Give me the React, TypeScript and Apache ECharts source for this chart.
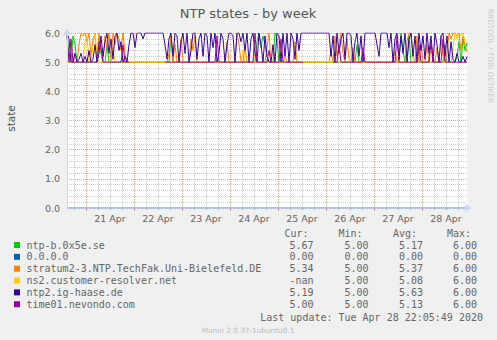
import React, { useEffect, useRef } from 'react';
import * as echarts from 'echarts';

// Time axis: 401 half-hour slots; first day boundary (21 Apr 00:00) at slot 19
const dayLabels = ['21 Apr', '22 Apr', '23 Apr', '24 Apr', '25 Apr', '26 Apr', '27 Apr', '28 Apr'];
const slotCount = 401;
const firstMidnight = 19;
const slotsPerDay = 48;
const slotsPer6h = 12;

const seriesNames = [
  'ntp-b.0x5e.se',
  '0.0.0.0',
  'stratum2-3.NTP.TechFak.Uni-Bielefeld.DE',
  'ns2.customer-resolver.net',
  'ntp2.ig-haase.de',
  'time01.nevondo.com',
];
const seriesColors = ['#00CC00', '#0066B3', '#FF8000', '#FFCC00', '#330099', '#990099'];
const curValues = ['5.67', '0.00', '5.34', '-nan', '5.19', '5.00'];
const minValues = ['5.00', '0.00', '5.00', '5.00', '5.00', '5.00'];
const avgValues = ['5.17', '0.00', '5.37', '5.08', '5.63', '5.13'];
const maxValues = ['6.00', '0.00', '6.00', '6.00', '6.00', '6.00'];

// samples every hour (201 points) except the 0.0.0.0 host (every 2 hours)
const ntpB = [
  6.0, 5.2, 5.0, 5.9, 5.6, 5.0, 5.0, 5.0, 5.0, 5.0,
  5.0, 5.0, 5.0, 5.0, 5.0, 5.0, 5.8, 5.3, 5.0, 5.0,
  5.6, 5.0, 5.0, 5.0, 5.0, 5.0, 5.0, 5.0, 5.0, 5.0,
  5.0, 5.0, 5.0, 5.0, 5.0, 5.0, 5.0, 5.0, 5.0, 5.0,
  5.0, 5.0, 5.0, 5.0, 5.0, 5.0, 5.0, 5.0, 5.0, 5.0,
  5.0, 5.0, 5.9, 5.0, 5.0, 5.0, 5.0, 5.0, 5.0, 5.0,
  5.0, 5.0, 5.0, 5.0, 5.0, 5.0, 5.0, 5.0, 5.0, 5.0,
  5.0, 5.0, 5.0, 5.0, 5.0, 5.0, 5.0, 5.0, 5.0, 5.0,
  5.0, 5.0, 5.0, 5.0, 5.0, 5.0, 5.0, 5.0, 5.0, 5.0,
  5.0, 5.0, 5.0, 5.0, 5.0, 5.7, 6.0, 5.5, 5.9, 5.6,
  5.2, 5.0, 5.0, 5.0, 6.0, 5.8, 5.0, 5.0, 5.0, 5.0,
  5.0, 5.0, 5.0, 5.0, 5.0, 5.0, 5.0, 5.0, 5.0, 5.0,
  5.0, 5.0, 5.0, 5.0, 5.0, 5.0, 5.0, 5.0, 5.0, 5.0,
  5.0, 5.0, 5.0, 5.0, 5.0, 5.0, 5.0, 5.0, 5.0, 5.0,
  5.0, 5.0, 5.0, 5.0, 5.0, 5.6, 5.0, 5.0, 5.0, 5.0,
  5.0, 5.0, 5.0, 5.0, 5.0, 5.0, 5.0, 5.0, 5.0, 5.0,
  5.0, 5.0, 5.0, 5.0, 5.0, 5.0, 5.0, 6.0, 5.4, 5.0,
  5.0, 5.9, 5.0, 5.0, 5.0, 5.0, 5.0, 5.0, 5.0, 5.0,
  5.0, 5.0, 5.0, 5.0, 5.0, 5.0, 5.0, 5.0, 5.0, 5.6,
  5.0, 5.0, 5.0, 5.0, 5.0, 5.2, 5.7, 5.0, 5.8, 5.4,
  5.67,
];
const zeroHost = [
  0, 0, 0, 0, 0, 0, 0, 0, 0, 0,
  0, 0, 0, 0, 0, 0, 0, 0, 0, 0,
  0, 0, 0, 0, 0, 0, 0, 0, 0, 0,
  0, 0, 0, 0, 0, 0, 0, 0, 0, 0,
  0, 0, 0, 0, 0, 0, 0, 0, 0, 0,
  0, 0, 0, 0, 0, 0, 0, 0, 0, 0,
  0, 0, 0, 0, 0, 0, 0, 0, 0, 0,
  0, 0, 0, 0, 0, 0, 0, 0, 0, 0,
  0, 0, 0, 0, 0, 0, 0, 0, 0, 0,
  0, 0, 0, 0, 0, 0, 0, 0, 0, 0,
  0,
];
const stratum2 = [
  5.0, 5.0, 5.0, 5.0, 5.3, 5.0, 5.6, 6.0, 5.9, 6.0,
  5.7, 6.0, 5.2, 5.8, 6.0, 5.1, 6.0, 5.4, 5.0, 5.9,
  5.5, 6.0, 5.0, 6.0, 5.6, 6.0, 5.8, 5.4, 6.0, 5.3,
  5.0, 5.0, 5.0, 5.0, 5.0, 5.0, 5.0, 5.0, 5.0, 5.0,
  5.0, 5.0, 5.0, 5.0, 5.0, 5.0, 5.0, 5.0, 5.0, 5.0,
  5.0, 5.3, 5.9, 5.0, 5.6, 5.0, 5.0, 5.8, 5.0, 5.0,
  5.0, 5.0, 5.8, 5.4, 5.9, 5.0, 5.0, 5.0, 5.0, 5.0,
  5.0, 5.0, 5.0, 5.0, 5.0, 5.0, 5.0, 5.0, 5.0, 5.0,
  5.7, 5.0, 5.0, 5.0, 5.0, 6.0, 5.6, 5.0, 5.0, 5.5,
  5.0, 5.0, 5.0, 5.0, 5.0, 5.0, 5.0, 5.0, 5.0, 5.0,
  5.5, 6.0, 5.0, 5.0, 5.0, 5.0, 5.0, 5.0, 5.0, 5.2,
  5.0, 5.0, 5.0, 5.0, 5.7, 5.0, 5.0, 5.0, 5.0, 5.0,
  5.0, 5.0, 5.0, 5.0, 5.0, 5.0, 5.0, 5.0, 5.0, 5.0,
  5.0, 5.0, 5.4, 5.0, 5.9, 5.2, 5.6, 6.0, 5.3, 5.0,
  5.8, 5.1, 5.0, 5.5, 5.0, 5.0, 5.0, 5.0, 5.0, 5.0,
  5.0, 5.0, 5.0, 5.0, 5.0, 5.0, 5.0, 5.0, 5.0, 5.0,
  5.0, 5.0, 5.0, 5.0, 5.4, 5.0, 5.0, 5.0, 5.0, 5.0,
  5.7, 6.0, 6.0, 5.2, 5.0, 5.9, 5.0, 5.6, 5.0, 5.0,
  5.6, 5.0, 5.8, 5.1, 5.0, 5.5, 5.0, 5.9, 5.2, 5.0,
  5.3, 6.0, 5.8, 6.0, 6.0, 5.9, 6.0, 5.4, 5.9, 5.6,
  5.34,
];
const ns2 = [
  5.0, 5.0, 5.0, 5.0, 5.0, 5.0, 5.0, 5.0, 5.0, 5.7,
  5.9, 5.0, 5.0, 5.6, 6.0, 5.2, 5.0, 5.0, 5.0, 5.0,
  5.0, 5.0, 5.0, 5.5, 5.0, 5.0, 5.0, 5.0, 5.0, 5.0,
  5.0, 5.0, 5.0, 5.0, 5.0, 5.0, 5.0, 5.0, 5.0, 5.0,
  5.0, 5.0, 5.0, 5.0, 5.0, 5.0, 5.0, 5.0, 5.0, 5.0,
  5.0, 5.0, 5.0, 5.0, 5.0, 5.0, 5.0, 5.0, 5.0, 5.0,
  5.0, 5.0, 5.0, 5.0, 5.0, 5.0, 5.0, 5.0, 5.0, 5.0,
  5.0, 5.0, 5.0, 5.0, 5.0, 5.0, 5.0, 5.0, 5.0, 5.0,
  5.0, 5.0, 5.0, 5.0, 5.0, 5.0, 5.0, 5.0, 5.4, 5.0,
  5.0, 5.0, 5.0, 5.0, 5.3, 5.0, 5.0, 5.0, 5.0, 5.0,
  5.0, 5.0, 5.0, 5.0, 5.0, 5.0, 5.0, 5.0, 5.0, 5.0,
  5.0, 5.0, 5.0, 5.0, 5.0, 5.0, 5.0, 5.0, 5.0, 5.0,
  5.0, 5.0, 5.0, 5.0, 5.0, 5.0, 5.0, 5.0, 5.0, 5.0,
  5.0, 5.0, 5.0, 5.0, 5.0, 5.0, 5.0, 5.0, 5.0, 5.0,
  5.0, 5.0, 5.0, 5.0, 5.0, 5.0, 5.0, 5.0, 5.0, 5.0,
  5.0, 5.0, 5.0, 5.0, 5.0, 5.0, 5.0, 5.0, 5.0, 5.0,
  5.0, 5.0, 5.0, 5.0, 5.0, 5.0, 5.0, 5.0, 5.0, 5.0,
  5.0, 5.0, 5.0, 5.0, 5.0, 5.0, 5.0, 5.0, 5.0, 5.0,
  5.0, 5.0, 5.0, 5.0, 5.0, 5.0, 5.0, 5.0, 5.0, 5.0,
  5.0, 5.0, 5.0, 5.5, 6.0, 5.8, 6.0, 5.9, 6.0, 5.7,
  null,
];
const ntp2 = [
  6.0, 5.8, 5.0, 5.0, 5.3, 5.0, 5.1, 5.3, 5.0, 5.2,
  5.0, 5.4, 5.0, 5.1, 5.6, 5.0, 5.3, 5.9, 5.2, 5.7,
  6.0, 5.3, 5.8, 5.1, 5.9, 6.0, 5.4, 5.7, 5.0, 5.2,
  5.0, 5.6, 6.0, 6.0, 5.5, 6.0, 6.0, 6.0, 5.8, 6.0,
  6.0, 6.0, 6.0, 6.0, 6.0, 6.0, 6.0, 6.0, 6.0, 5.6,
  5.1, 5.8, 6.0, 5.2, 6.0, 5.9, 5.0, 5.7, 6.0, 5.3,
  6.0, 5.0, 5.4, 6.0, 6.0, 5.1, 5.8, 6.0, 5.2, 6.0,
  5.9, 5.0, 6.0, 5.5, 6.0, 5.0, 5.3, 6.0, 5.8, 5.0,
  5.6, 6.0, 6.0, 5.9, 5.0, 6.0, 6.0, 5.7, 6.0, 5.4,
  6.0, 5.0, 5.8, 6.0, 5.3, 5.0, 6.0, 5.6, 5.0, 5.9,
  5.2, 5.0, 5.0, 5.6, 5.0, 6.0, 5.9, 5.0, 6.0, 5.2,
  6.0, 5.0, 6.0, 5.8, 5.1, 6.0, 5.4, 6.0, 6.0, 6.0,
  6.0, 6.0, 6.0, 6.0, 6.0, 6.0, 6.0, 6.0, 6.0, 6.0,
  6.0, 6.0, 5.2, 5.9, 5.0, 6.0, 5.3, 5.8, 6.0, 5.1,
  6.0, 6.0, 5.9, 5.0, 5.7, 6.0, 5.2, 5.9, 5.0, 6.0,
  6.0, 6.0, 6.0, 6.0, 6.0, 5.6, 5.2, 6.0, 6.0, 6.0,
  6.0, 5.5, 6.0, 5.0, 5.8, 6.0, 5.1, 5.9, 5.3, 6.0,
  5.0, 5.8, 6.0, 5.2, 5.9, 5.0, 6.0, 5.4, 5.9, 5.1,
  6.0, 5.3, 5.9, 5.0, 6.0, 5.6, 5.0, 5.9, 6.0, 5.2,
  5.9, 5.0, 5.7, 5.1, 5.0, 5.3, 5.0, 5.0, 5.2, 5.0,
  5.19,
];
const time01 = [
  5.9, 5.0, 5.8, 5.0, 5.0, 5.0, 5.0, 5.0, 5.0, 5.0,
  5.0, 5.0, 5.0, 5.0, 5.0, 5.0, 5.7, 5.5, 5.0, 5.0,
  5.0, 5.0, 5.0, 5.0, 5.0, 5.0, 5.0, 5.0, 5.6, 5.0,
  5.0, 5.0, null, null, null, null, null, null, null, null,
  null, null, null, null, null, null, null, null, null, 5.0,
  5.0, 5.0, 5.0, 5.0, 5.0, 5.0, 5.0, 5.0, 5.0, 5.0,
  5.0, 5.0, 5.0, 5.0, 5.0, 5.0, 5.0, 5.0, 5.0, 5.0,
  5.0, 5.0, 5.0, 5.0, 5.0, 5.9, 5.0, 5.0, 5.0, 5.0,
  5.0, 5.0, 5.0, 5.0, 5.0, 5.0, 5.0, 5.0, 5.0, 5.0,
  5.0, 5.0, 5.0, 5.0, 6.0, 5.0, 5.0, 5.0, 5.0, 5.0,
  5.0, 5.4, 5.0, 5.0, 5.0, 5.0, 5.0, 5.8, 5.0, 5.0,
  5.0, 5.0, 5.0, 5.0, 5.0, 5.0, 5.0, 5.0, 5.0, null,
  null, null, null, null, null, null, null, null, null, null,
  null, null, null, 5.0, 5.0, 5.0, 5.6, 5.0, 5.0, 5.0,
  5.0, 5.0, 5.0, 5.0, 5.0, 5.0, 5.0, 5.0, 5.5, 5.0,
  5.0, 5.0, 5.0, 5.0, 5.0, 5.0, 5.0, 5.0, 5.0, 5.0,
  5.0, 5.0, 5.0, 5.0, 5.0, 5.9, 5.0, 5.0, 5.0, 5.0,
  5.0, 5.0, 5.0, 5.0, 5.0, 5.0, 5.6, 5.0, 5.0, 5.0,
  5.0, 5.0, 5.7, 5.0, 5.0, 5.0, 5.0, 5.0, 5.8, 5.0,
  5.0, 5.0, 5.0, 5.0, 5.0, 5.0, 5.0, 5.0, 5.0, 5.0,
  5.0,
];
const seriesValues = [ntpB, zeroHost, stratum2, ns2, ntp2, time01];

const MONO = '"DejaVu Sans Mono", monospace';
const SANS = '"DejaVu Sans", sans-serif';
const FONT_COLOR = '#666666';
const AXIS_COLOR = '#CFD6F8';

export default function App() {
  const ref = useRef<HTMLDivElement>(null);

  useEffect(() => {
    if (!ref.current) return;
    const chart = echarts.init(ref.current, undefined, { renderer: 'svg' });
    const slots = Array.from({ length: slotCount }, (_, i) => String(i));
    const isMajor = (i: number) => i >= firstMidnight && (i - firstMidnight) % slotsPerDay === 0;
    const isMinor = (i: number) =>
      ((i - firstMidnight) % slotsPer6h + slotsPer6h) % slotsPer6h === 0 && !isMajor(i) && i > 0;
    const labelSlot = (i: number) =>
      i >= firstMidnight + slotsPerDay / 2 && (i - firstMidnight - slotsPerDay / 2) % slotsPerDay === 0;

    const legendRowY = (i: number) => 245 + i * 11.85;
    const graphics: any[] = [
      {
        type: 'text', x: 248, y: 13,
        style: { text: 'NTP states - by week', fill: '#555555', font: `13px ${SANS}`, textAlign: 'center', textVerticalAlign: 'middle' },
      },
      {
        type: 'text', x: 11, y: 118.5, rotation: Math.PI / 2,
        style: { text: 'state', fill: '#555555', font: `10.5px ${SANS}`, textAlign: 'center', textVerticalAlign: 'middle' },
      },
      {
        type: 'text', x: 490, y: 56, rotation: -Math.PI / 2,
        style: { text: 'RRDTOOL / TOBI OETIKER', fill: '#cccccc', font: `7.3px ${SANS}`, textAlign: 'center', textVerticalAlign: 'middle' },
      },
      ...['Cur:', 'Min:', 'Avg:', 'Max:'].map((h, j) => ({
        type: 'text', x: [308.5, 362.5, 417, 471][j], y: 233,
        style: { text: h, fill: FONT_COLOR, font: `10px ${MONO}`, textAlign: 'right', textVerticalAlign: 'middle' },
      })),
      {
        type: 'text', x: 483, y: 317,
        style: { text: 'Last update: Tue Apr 28 22:05:49 2020', fill: FONT_COLOR, font: `10px ${MONO}`, textAlign: 'right', textVerticalAlign: 'middle' },
      },
      {
        type: 'text', x: 248, y: 330,
        style: { text: 'Munin 2.0.37-1ubuntu0.1', fill: '#bbbbbb', font: `7.3px ${SANS}`, textAlign: 'center', textVerticalAlign: 'middle' },
      },
    ];
    seriesNames.forEach((name, i) => {
      const y = legendRowY(i);
      graphics.push({ type: 'rect', shape: { x: 14, y: y - 3, width: 6, height: 6 }, style: { fill: seriesColors[i] } });
      graphics.push({
        type: 'text', x: 26.5, y,
        style: { text: name, fill: FONT_COLOR, font: `10px ${MONO}`, textAlign: 'left', textVerticalAlign: 'middle' },
      });
      [curValues[i], minValues[i], avgValues[i], maxValues[i]].forEach((v, j) => {
        graphics.push({
          type: 'text', x: [313.5, 368.5, 423, 477][j], y,
          style: { text: v, fill: FONT_COLOR, font: `10px ${MONO}`, textAlign: 'right', textVerticalAlign: 'middle' },
        });
      });
    });

    const hiddenCat = {
      type: 'category', data: slots, boundaryGap: false, position: 'bottom',
      axisLine: { show: false }, axisLabel: { show: false },
    };

    chart.setOption({
      animation: false,
      backgroundColor: '#F0F0F0',
      grid: { left: 67, right: 30, top: 33, bottom: 132, backgroundColor: '#FFFFFF', show: true, borderWidth: 0 },
      xAxis: [
        {
          type: 'category', data: slots, boundaryGap: false, position: 'bottom', z: 5,
          axisLine: {
            show: true, symbol: ['none', 'arrow'], symbolSize: [7, 8], symbolOffset: [0, 5],
            lineStyle: { color: AXIS_COLOR, width: 1.5, opacity: 0.65 },
          },
          axisTick: { show: false },
          axisLabel: {
            interval: (i: number) => labelSlot(i),
            formatter: (v: string) => {
              const i = Number(v);
              const d = (i - firstMidnight - slotsPerDay / 2) / slotsPerDay;
              return dayLabels[d] ?? '';
            },
            color: FONT_COLOR, fontSize: 9.5, fontFamily: SANS, margin: 5,
          },
          splitLine: { show: false },
        },
        {
          ...hiddenCat,
          axisTick: { show: true, interval: (i: number) => isMinor(i), length: 2, lineStyle: { color: 'rgba(128,128,128,0.5)' } },
          splitLine: { show: true, interval: (i: number) => isMinor(i), lineStyle: { color: 'rgba(140,140,140,0.45)', type: [1, 1], width: 1 } },
        },
        {
          ...hiddenCat,
          axisTick: { show: true, interval: (i: number) => isMajor(i), length: 3, lineStyle: { color: 'rgba(224,80,80,0.6)' } },
          splitLine: { show: true, interval: (i: number) => isMajor(i), lineStyle: { color: 'rgba(230,90,90,0.6)', type: [1, 1], width: 1 } },
        },
      ],
      yAxis: {
        type: 'value', min: 0, max: 6, interval: 1, z: 5,
        axisLine: {
          show: true, symbol: ['none', 'arrow'], symbolSize: [7, 8], symbolOffset: [0, 5],
          lineStyle: { color: AXIS_COLOR, width: 1 },
        },
        axisTick: { show: false },
        axisLabel: { formatter: (v: number) => v.toFixed(1), color: FONT_COLOR, fontSize: 9.5, fontFamily: SANS, margin: 7 },
        splitLine: { show: true, lineStyle: { color: 'rgba(230,90,90,0.6)', type: [1, 1], width: 1 } },
        minorTick: { show: false, splitNumber: 5 },
        minorSplitLine: { show: true, lineStyle: { color: 'rgba(140,140,140,0.45)', type: [1, 1], width: 1 } },
      },
      graphic: graphics,
      series: seriesNames.map((name, i) => {
        const vals = seriesValues[i];
        const step = (slotCount - 1) / (vals.length - 1);
        return {
          name,
          type: 'line',
          xAxisIndex: 0,
          showSymbol: false,
          symbol: 'none',
          connectNulls: false,
          color: seriesColors[i],
          lineStyle: { color: seriesColors[i], width: 1 },
          data: vals.map((v, k) => [k * step, v]),
          z: 2,
        };
      }),
    });
    return () => chart.dispose();
  }, []);

  return <div ref={ref} style={{ position: 'fixed', left: 0, top: 0, width: 497, height: 340 }} />;
}
